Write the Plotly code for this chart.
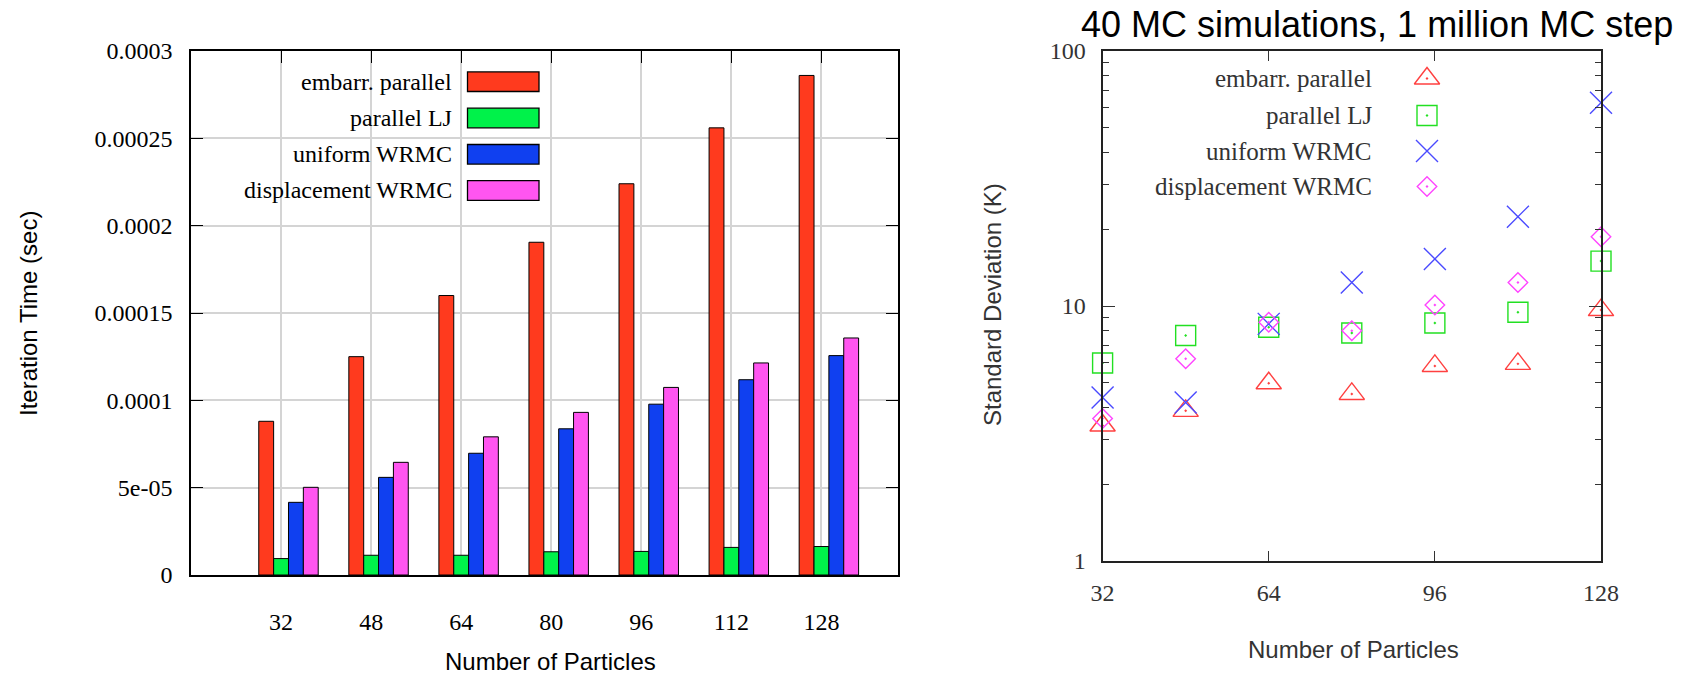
import plotly.graph_objects as go

# ---------------- data ----------------
particles = [32, 48, 64, 80, 96, 112, 128]
series_names = ["embarr. parallel", "parallel LJ", "uniform WRMC", "displacement WRMC"]

# left panel: iteration time (sec)
embarr_time = [8.8e-5, 1.25e-4, 1.60e-4, 1.905e-4, 2.24e-4, 2.56e-4, 2.86e-4]
lj_time = [9.4e-6, 1.13e-5, 1.13e-5, 1.33e-5, 1.35e-5, 1.58e-5, 1.63e-5]
uniform_time = [4.16e-5, 5.59e-5, 6.97e-5, 8.37e-5, 9.78e-5, 1.118e-4, 1.256e-4]
disp_time = [5.02e-5, 6.45e-5, 7.91e-5, 9.31e-5, 1.074e-4, 1.214e-4, 1.357e-4]

# right panel: standard deviation (K)
embarr_sd = [3.4, 3.88, 4.98, 4.52, 5.82, 5.93, 9.64]
lj_sd = [5.98, 7.66, 8.25, 7.84, 8.58, 9.45, 15.0]
uniform_sd = [4.38, 4.18, 8.51, 12.36, 15.3, 22.4, 62.7]
disp_sd = [3.62, 6.21, 8.64, 8.0, 10.1, 12.36, 18.7]

left_yticks = [0, 5e-5, 1e-4, 1.5e-4, 2e-4, 2.5e-4, 3e-4]
left_yticktext = ["0", "5e-05", "0.0001", "0.00015", "0.0002", "0.00025", "0.0003"]
right_xticks = [32, 64, 96, 128]
right_yticks = [1, 10, 100]
right_minor_yticks = [2, 3, 4, 5, 6, 7, 8, 9, 20, 30, 40, 50, 60, 70, 80, 90]

title_text = "40 MC simulations, 1 million MC step"
xtitle = "Number of Particles"
ytitle_left = "Iteration Time (sec)"
ytitle_right = "Standard Deviation (K)"

# ---------------- style ----------------
W, H = 1686, 675
def px(x):
    return x / W
def py(y):
    return 1 - y / H

bar_colors = ["#ff3a1e", "#00f24a", "#1040f0", "#ff55f0"]
pt_colors = ["#ff4040", "#22e022", "#4a4aff", "#ff44ff"]
pt_symbols = ["triangle-up-open-dot", "square-open-dot", "x-thin-open", "diamond-open-dot"]
pt_sizes = [22, 20, 22, 15]
SERIF = "Liberation Serif"
SANS = "Liberation Sans"
GREY = "#333333"

fig = go.Figure()

# ---------------- left: bars ----------------
bw = 2.64
time_series = [embarr_time, lj_time, uniform_time, disp_time]
for i, (name, vals) in enumerate(zip(series_names, time_series)):
    fig.add_trace(go.Bar(
        x=particles, y=vals, name=name, width=bw, offset=(i - 1.5) * bw,
        marker=dict(color=bar_colors[i], line=dict(color="black", width=1)),
        xaxis="x", yaxis="y", showlegend=False,
    ))

# ---------------- right: points ----------------
sd_series = [embarr_sd, lj_sd, uniform_sd, disp_sd]
for i, (name, vals) in enumerate(zip(series_names, sd_series)):
    fig.add_trace(go.Scatter(
        x=particles, y=vals, name=name, mode="markers", cliponaxis=False,
        marker=dict(symbol=pt_symbols[i], size=pt_sizes[i], color=pt_colors[i],
                    line=dict(color=pt_colors[i], width=1.4)),
        xaxis="x2", yaxis="y2", showlegend=False,
    ))

# legend markers for right panel (overlay pixel axes)
leg_rows = [78.5, 115.5, 151, 186.5]
for i in range(4):
    fig.add_trace(go.Scatter(
        x=[1427], y=[leg_rows[i]], mode="markers", cliponaxis=False,
        marker=dict(symbol=pt_symbols[i], size=pt_sizes[i], color=pt_colors[i],
                    line=dict(color=pt_colors[i], width=1.4)),
        xaxis="x3", yaxis="y3", showlegend=False, hoverinfo="skip",
    ))
    fig.add_annotation(xref="paper", yref="paper", x=px(1374), y=py(leg_rows[i]),
                       text=series_names[i], showarrow=False, xanchor="right", yanchor="middle",
                       font=dict(family=SERIF, size=25, color=GREY))

# legend for left panel (white box + swatches)
fig.add_shape(type="rect", xref="paper", yref="paper", layer="between",
              x0=px(192), x1=px(554), y0=py(64), y1=py(210),
              fillcolor="white", line=dict(width=0))
left_rows = [81.7, 118, 154.3, 190.5]
for i in range(4):
    fig.add_shape(type="rect", xref="paper", yref="paper", layer="above",
                  x0=px(467.5), x1=px(539), y0=py(left_rows[i] - 9.8), y1=py(left_rows[i] + 9.8),
                  fillcolor=bar_colors[i], line=dict(color="black", width=1.3))
    fig.add_annotation(xref="paper", yref="paper", x=px(454), y=py(left_rows[i]),
                       text=series_names[i], showarrow=False, xanchor="right", yanchor="middle",
                       font=dict(family=SERIF, size=24, color="black"))

# title and axis titles
fig.add_annotation(xref="paper", yref="paper", x=px(1377), y=py(25), text=title_text,
                   showarrow=False, xanchor="center", yanchor="middle",
                   font=dict(family=SANS, size=36, color="black"))
fig.add_annotation(xref="paper", yref="paper", x=px(550), y=py(661), text=xtitle,
                   showarrow=False, xanchor="center", yanchor="middle",
                   font=dict(family=SANS, size=24, color="black"))
fig.add_annotation(xref="paper", yref="paper", x=px(1353), y=py(649), text=xtitle,
                   showarrow=False, xanchor="center", yanchor="middle",
                   font=dict(family=SANS, size=24, color=GREY))
fig.add_annotation(xref="paper", yref="paper", x=px(28), y=py(314), text=ytitle_left,
                   showarrow=False, xanchor="center", yanchor="middle", textangle=-90,
                   font=dict(family=SANS, size=24, color="black"))
fig.add_annotation(xref="paper", yref="paper", x=px(992), y=py(305), text=ytitle_right,
                   showarrow=False, xanchor="center", yanchor="middle", textangle=-90,
                   font=dict(family=SANS, size=24, color=GREY))

fig.update_layout(
    width=W, height=H,
    margin=dict(l=0, r=0, t=0, b=0, autoexpand=False),
    paper_bgcolor="white", plot_bgcolor="rgba(0,0,0,0)",
    barmode="overlay",
    showlegend=False,
    xaxis=dict(domain=[px(191), px(898)], range=[16, 141.6], tickvals=particles,
               ticks="inside", ticklen=12, tickcolor="black", showline=True, linecolor="black",
               linewidth=1.5, mirror="ticks", showgrid=True, gridcolor="#d4d4d4", gridwidth=1.5,
               zeroline=False, tickfont=dict(family=SERIF, size=24, color="black"),
               ticklabelstandoff=24, automargin=False, layer="below traces"),
    yaxis=dict(domain=[py(575), py(51)], range=[0, 3e-4], tickvals=left_yticks,
               ticktext=left_yticktext, ticks="inside", ticklen=12, tickcolor="black",
               showline=True, linecolor="black", linewidth=1.5, mirror="ticks",
               showgrid=True, gridcolor="#d4d4d4", gridwidth=1.5, zeroline=False,
               tickfont=dict(family=SERIF, size=24, color="black"), ticklabelstandoff=12,
               automargin=False),
    xaxis2=dict(domain=[px(1102.6), px(1601)], range=[32, 128], tickvals=right_xticks,
                ticks="inside", ticklen=10, tickcolor=GREY, showline=True, linecolor="#222222",
                linewidth=2.2, mirror="ticks", showgrid=False, zeroline=False, anchor="y2",
                tickfont=dict(family=SERIF, size=24, color=GREY), ticklabelstandoff=9,
                automargin=False),
    yaxis2=dict(domain=[py(561), py(51)], type="log", range=[0, 2], tickvals=right_yticks,
                ticktext=["1", "10", "100"], ticks="inside", ticklen=12, tickcolor=GREY,
                showline=True, linecolor="#222222", linewidth=2.2, mirror="ticks",
                showgrid=False, zeroline=False, anchor="x2",
                minor=dict(ticks="inside", ticklen=6, tickcolor=GREY, showgrid=False,
                           tickmode="array", tickvals=right_minor_yticks),
                tickfont=dict(family=SERIF, size=24, color=GREY), ticklabelstandoff=10,
                automargin=False),
    xaxis3=dict(domain=[0, 1], range=[0, W], visible=False, anchor="y3", automargin=False),
    yaxis3=dict(domain=[0, 1], range=[H, 0], visible=False, anchor="x3", automargin=False),
)

fig.write_html("out.html", config={"displayModeBar": False},
               post_script="document.body.style.margin='0px';document.body.style.overflow='hidden';")
